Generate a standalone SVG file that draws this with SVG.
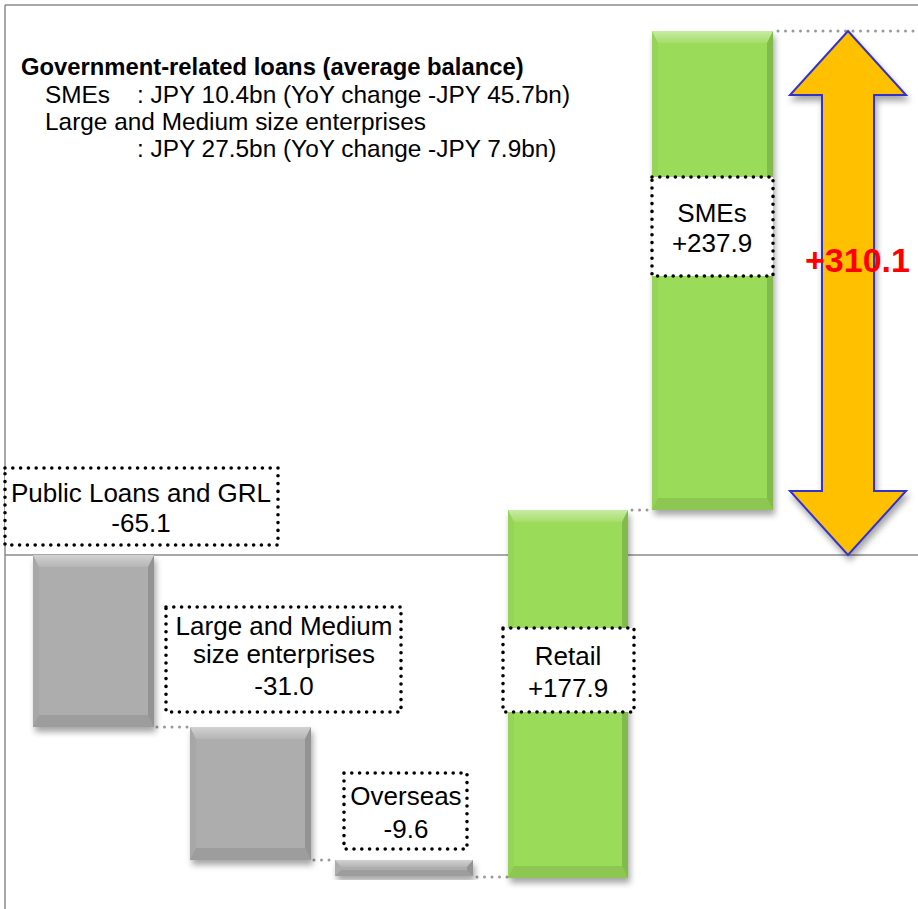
<svg xmlns="http://www.w3.org/2000/svg" width="918" height="909" viewBox="0 0 918 909">
<defs>
<style>
.axis{stroke:#8c8c8c;stroke-width:1.5;fill:none}
.conn{stroke:#999;stroke-width:3;stroke-dasharray:0 7.5;stroke-linecap:round;fill:none}
.gray{fill:#adadad}
.green{fill:#9bdb5a}
.bt{fill:url(#gt)}
.bb{fill:#000;opacity:0.09}
.bl{fill:#000;opacity:0.03}
.br{fill:#000;opacity:0.15}
.box{fill:#fff;stroke:#000;stroke-width:3.6;stroke-dasharray:0 7.8;stroke-linecap:round}
.lbl{font-family:"Liberation Sans",Arial,sans-serif;font-size:26px;fill:#000;text-anchor:middle}
.note{font-family:"Liberation Sans",Arial,sans-serif;font-size:24.4px;fill:#000}
.note-b{font-family:"Liberation Sans",Arial,sans-serif;font-size:23.8px;font-weight:bold;fill:#000}
</style>
<linearGradient id="gt" x1="0" y1="0" x2="0" y2="1">
<stop offset="0" stop-color="#fff" stop-opacity="0.45"/>
<stop offset="1" stop-color="#fff" stop-opacity="0.1"/>
</linearGradient>
<filter id="sh" x="-20%" y="-20%" width="140%" height="140%">
<feDropShadow dx="2" dy="5" stdDeviation="3" flood-color="#000" flood-opacity="0.35"/>
</filter>
</defs>
<rect width="918" height="909" fill="#fff"/>
<g id="axes">
<path class="axis" d="M5,5H918M5,5V909M5,555H918"/>
</g>
<g id="note">
<text class="note-b" x="21" y="75">Government-related loans (average balance)</text>
<text class="note" x="45" y="103">SMEs</text>
<text class="note" x="137" y="103">: JPY 10.4bn (YoY change -JPY 45.7bn)</text>
<text class="note" x="45" y="130">Large and Medium size enterprises</text>
<text class="note" x="137" y="157">: JPY 27.5bn (YoY change -JPY 7.9bn)</text>
</g>
<g id="connectors">
<path class="conn" d="M157,727H190"/>
<path class="conn" d="M314,860H335"/>
<path class="conn" d="M477,877H508"/>
<path class="conn" d="M632,510H652"/>
<path class="conn" d="M778,31H918"/>
</g>
<g id="bar-public">
<rect class="gray" x="33" y="555" width="121" height="172" filter="url(#sh)"/>
<polygon class="bt" points="33,555 154,555 148,567 39,567"/>
<polygon class="bb" points="33,727 154,727 148,715 39,715"/>
<polygon class="bl" points="33,555 39,567 39,715 33,727"/>
<polygon class="br" points="154,555 148,567 148,715 154,727"/>
</g>
<g id="bar-large">
<rect class="gray" x="190" y="727" width="121" height="133" filter="url(#sh)"/>
<polygon class="bt" points="190,727 311,727 305,739 196,739"/>
<polygon class="bb" points="190,860 311,860 305,848 196,848"/>
<polygon class="bl" points="190,727 196,739 196,848 190,860"/>
<polygon class="br" points="311,727 305,739 305,848 311,860"/>
</g>
<g id="bar-overseas">
<rect class="gray" x="335" y="860" width="138" height="16" filter="url(#sh)"/>
<polygon class="bt" points="335,860 473,860 467,867 341,867"/>
<polygon class="bb" points="335,876 473,876 467,870 341,870"/>
<polygon class="br" points="473,860 467,867 467,870 473,876"/>
</g>
<g id="bar-retail">
<rect class="green" x="508" y="510" width="120" height="368" filter="url(#sh)"/>
<polygon class="bt" points="508,510 628,510 622,522 514,522"/>
<polygon class="bb" points="508,878 628,878 622,866 514,866"/>
<polygon class="bl" points="508,510 514,522 514,866 508,878"/>
<polygon class="br" points="628,510 622,522 622,866 628,878"/>
</g>
<g id="bar-smes">
<rect class="green" x="652" y="31" width="121" height="479" filter="url(#sh)"/>
<polygon class="bt" points="652,31 773,31 767,43 658,43"/>
<polygon class="bb" points="652,510 773,510 767,498 658,498"/>
<polygon class="bl" points="652,31 658,43 658,498 652,510"/>
<polygon class="br" points="773,31 767,43 767,498 773,510"/>
</g>
<g id="total-arrow">
<polygon points="848,31 906,95 874,95 874,491 906,491 848,555 790,491 822,491 822,95 790,95" fill="#ffc000" stroke="#3333cc" stroke-width="2" stroke-linejoin="miter" filter="url(#sh)"/>
<text x="805" y="272" font-family="'Liberation Sans',Arial,sans-serif" font-size="34" font-weight="bold" fill="#ff0000">+310.1</text>
</g>
<g id="label-public">
<rect class="box" x="5" y="468" width="273" height="77"/>
<text class="lbl" x="141" y="502">Public Loans and GRL</text>
<text class="lbl" x="141" y="532">-65.1</text>
</g>
<g id="label-large">
<rect class="box" x="166" y="607" width="235" height="105"/>
<text class="lbl" x="284" y="635">Large and Medium</text>
<text class="lbl" x="284" y="663">size enterprises</text>
<text class="lbl" x="284" y="695">-31.0</text>
</g>
<g id="label-overseas">
<rect class="box" x="344" y="773" width="123" height="76"/>
<text class="lbl" x="406" y="805">Overseas</text>
<text class="lbl" x="406" y="838">-9.6</text>
</g>
<g id="label-retail">
<rect class="box" x="503" y="628" width="131" height="84"/>
<text class="lbl" x="568" y="665">Retail</text>
<text class="lbl" x="568" y="697">+177.9</text>
</g>
<g id="label-smes">
<rect class="box" x="652" y="177" width="121" height="99"/>
<text class="lbl" x="712" y="222">SMEs</text>
<text class="lbl" x="712" y="252">+237.9</text>
</g>
</svg>
